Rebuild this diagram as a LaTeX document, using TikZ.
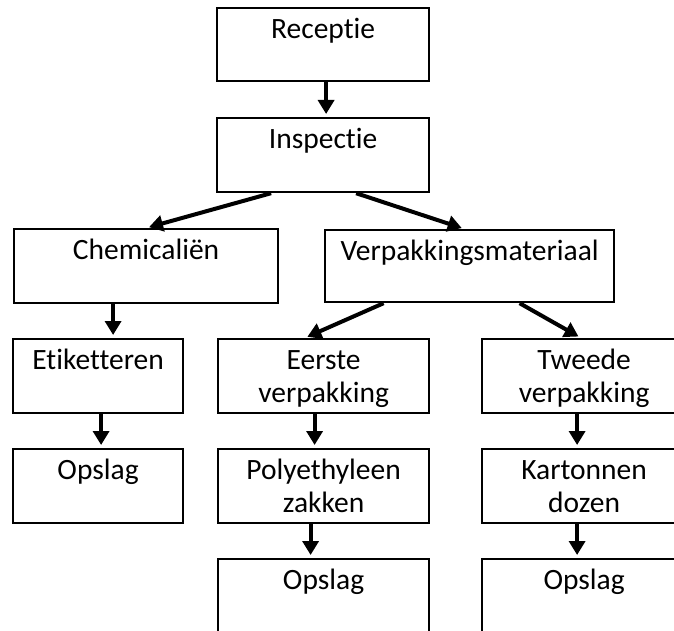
\documentclass[tikz,border=0pt]{standalone}
\usepackage{fontspec}
\setmainfont{Carlito}[RawFeature=-liga]
\usetikzlibrary{arrows.meta}
\newcommand\bt[3]{\parbox[c][#2][t]{#1}{\centering\rule{0pt}{30pt}#3}}
\tikzset{
  box/.style={draw, line width=2.2pt, inner sep=0pt, anchor=north west},
  arr/.style={line width=4pt, -{Triangle[length=14pt,width=16pt]}, shorten >=3pt}
}
\begin{document}
\begin{tikzpicture}[x=1pt,y=-1pt,font=\fontsize{29.5}{33}\selectfont]
\useasboundingbox (0,0) rectangle (674,631);
\clip (0,0) rectangle (674,631);
\node[box] (rec) at (216,7) {\bt{212pt}{73pt}{Receptie}};
\node[box] (insp) at (216,117) {\bt{212pt}{74pt}{Inspectie}};
\node[box] (chem) at (13,228) {\bt{264pt}{74pt}{Chemicaliën}};
\node[box] (verp) at (324,229) {\bt{289pt}{72pt}{Verpakkingsmateriaal}};
\node[box] (etik) at (12,338) {\bt{170pt}{74pt}{Etiketteren}};
\node[box] (eerste) at (217,338) {\bt{211pt}{74pt}{Eerste\\verpakking}};
\node[box] (tweede) at (481,338) {\bt{204pt}{74pt}{Tweede\\verpakking}};
\node[box] (opl) at (12,448) {\bt{170pt}{74pt}{Opslag}};
\node[box] (poly) at (217,448) {\bt{211pt}{74pt}{Polyethyleen\\zakken}};
\node[box] (kart) at (481,448) {\bt{204pt}{74pt}{Kartonnen\\dozen}};
\node[box] (opm) at (217,558) {\bt{211pt}{100pt}{Opslag}};
\node[box] (opr) at (481,558) {\bt{204pt}{100pt}{Opslag}};
\draw[arr] ([xshift=3pt]rec.south) -- ([xshift=3pt]insp.north);
\draw[arr] ([xshift=-52pt]insp.south) -- (chem.north);
\draw[arr] ([xshift=33pt]insp.south) -- ([xshift=-5pt]verp.north);
\draw[arr] ([xshift=-33pt]chem.south) -- ([xshift=15pt]etik.north);
\draw[arr] ([xshift=3pt]etik.south) -- ([xshift=3pt]opl.north);
\draw[arr] ([xshift=-86pt]verp.south) -- ([xshift=-19pt]eerste.north);
\draw[arr] ([xshift=50pt]verp.south) -- ([xshift=-3pt]tweede.north);
\draw[arr] ([xshift=-9pt]eerste.south) -- ([xshift=-9pt]poly.north);
\draw[arr] ([xshift=-13pt]poly.south) -- ([xshift=-13pt]opm.north);
\draw[arr] ([xshift=-7pt]tweede.south) -- ([xshift=-7pt]kart.north);
\draw[arr] ([xshift=-7pt]kart.south) -- ([xshift=-7pt]opr.north);
\end{tikzpicture}
\end{document}
